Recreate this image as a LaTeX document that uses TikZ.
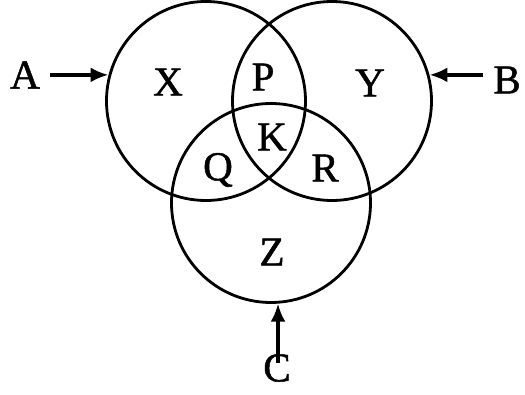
\documentclass[tikz,border=0pt]{standalone}
\usepackage{fontspec}
\setmainfont{Liberation Serif}
\newfontfamily\scanfont{Liberation Serif}[FakeBold=1.2]
\usetikzlibrary{arrows.meta}

\begin{document}
\begin{tikzpicture}[x=1pt, y=-1pt,
    set/.style={draw, circle, line width=2.8pt, minimum size=199pt, inner sep=0pt},
    letter/.style={font=\scanfont\fontsize{41}{45}\selectfont, inner sep=0pt},
    arr/.style={-{Latex[length=18pt, width=15pt]}, line width=3.4pt}
]
    \useasboundingbox (0,0) rectangle (525,395);

    % the three sets
    \node[set] (setA) at (206,101) {};
    \node[set] (setB) at (332,101) {};
    \node[set] (setC) at (271,203) {};

    % regions
    \node[letter] (regX) at (168,82)  {X};
    \node[letter] (regP) at (263,77)  {P};
    \node[letter] (regY) at (370,83)  {Y};
    \node[letter] (regK) at (272,137) {K};
    \node[letter] (regQ) at (218,170) {Q};
    \node[letter] (regR) at (325,168) {R};
    \node[letter] (regZ) at (272,252) {Z};

    % pointers
    \node[letter] (labA) at (25,75)  {A};
    \node[letter] (labB) at (507,80) {B};
    \node[letter] (labC) at (277,368) {C};

    \draw[arr] ([xshift=10pt]labA.east |- setA.165) -- (setA.165);
    \draw[arr] ([xshift=-10pt]labB.west |- setB.15) -- (setB.15);
    \draw[arr] ([yshift=-9pt]setC.274 |- labC.north) -- (setC.274);
\end{tikzpicture}
\end{document}
